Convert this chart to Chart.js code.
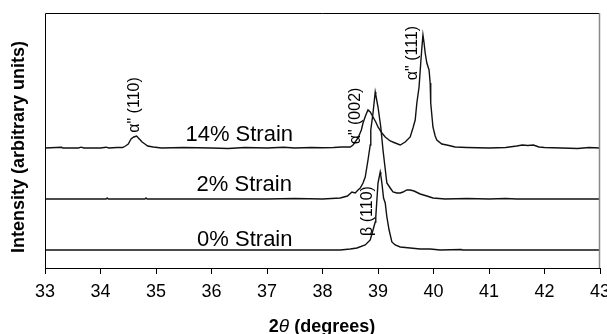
<!DOCTYPE html>
<html>
<head>
<meta charset="utf-8">
<script src="https://cdn.jsdelivr.net/npm/chart.js@4"></script>
<style>
  body { margin: 0; background: #fff; }
</style>
</head>
<body>
<canvas id="xrdChart" width="607" height="334"></canvas>
<script>
'use strict';

// 2theta range of the scan
let xMin = 33;
let xMax = 43;

// 14% strain trace: 2theta (deg) and intensity above its own baseline
let deg14 = [33.0, 33.3, 33.32, 33.6, 33.65, 33.7, 34.0, 34.1, 34.15, 34.3, 34.4, 34.45, 34.5, 34.55, 34.6, 34.65, 34.7, 34.75, 34.8, 34.85, 34.95,
    35.1, 35.5, 36.0, 36.3, 36.6, 37.0, 37.3, 37.5, 37.8, 38.0, 38.2, 38.35, 38.5, 38.55, 38.64, 38.7, 38.73, 38.78, 38.82, 38.86, 38.91, 38.96,
    39.0, 39.07, 39.13, 39.22, 39.31, 39.4, 39.49, 39.58, 39.63, 39.67, 39.7, 39.74, 39.77, 39.79, 39.81, 39.83, 39.85, 39.88, 39.92, 39.94,
    39.95, 39.99, 40.03, 40.06, 40.15, 40.24, 40.39, 40.6, 41.0, 41.3, 41.5, 41.6, 41.7, 41.8, 41.9, 42.0, 42.3, 42.6, 42.8, 43.0];
let int14 = [0, 0.8, 0, 0, 0.8, 0, 0, 0.8, 0, 0.5, 0.5, 2, 4, 9, 11, 12, 9, 6, 4, 2, 1,
    0, 0.5, 0, -0.5, 0.5, 0, 0.8, 0, 0.5, 0.3, 0.5, 1, 1, 3, 10, 18, 25, 33, 38, 36, 31, 26,
    21, 15, 11, 7, 5, 3, 6, 11, 20, 28, 45, 61, 85, 100, 113, 105, 95, 85, 78, 65,
    45, 21, 12, 8, 4, 3, 1, 0.5, 0, 0.5, 2, 3, 2.5, 3, 1, 0.5, 0, -0.5, 0.5, 0];

// 2% strain trace
let deg2 = [33.0, 34.1, 34.12, 34.14, 34.8, 34.82, 34.84, 35.5, 36.5, 37.0, 37.5, 38.0, 38.32, 38.45, 38.53, 38.59, 38.64, 38.68, 38.73,
    38.77, 38.82, 38.86, 38.87, 38.91, 38.95, 38.96, 39.0, 39.05, 39.09, 39.13, 39.16, 39.22, 39.27, 39.34, 39.4, 39.45, 39.52, 39.58,
    39.65, 39.76, 39.88, 39.99, 40.21, 40.6, 41.0, 41.3, 41.5, 43.0];
let int2 = [0, 0, 1, 0, 0, 1, 0, 0, 0, 0, 0.5, 0, 1, 3, 7, 6, 9, 11, 16,
    22, 39, 54, 69, 86, 107, 104, 92, 72, 49, 30, 16, 11, 7, 6, 6, 7, 9, 9,
    8, 5, 3, 1, 0, 0.5, 0, 0.5, 0, 0];

// 0% strain trace
let deg0 = [33.0, 38.0, 38.32, 38.5, 38.62, 38.77, 38.86, 38.91, 38.95, 38.96, 38.98, 39.0, 39.04, 39.05, 39.07, 39.1, 39.13, 39.16,
    39.2, 39.25, 39.31, 39.4, 39.58, 39.76, 39.94, 40.12, 40.5, 40.52, 43.0];
let int0 = [0, 0, 0, 1, 2, 5, 10, 20, 28, 33, 50, 67, 78, 75, 67, 52, 47, 33,
    20, 8, 5, 3, 2, 1, 1, 0, 0.5, 0, 0];

// vertical offsets used to stack the traces
let offsets = [120, 69, 18];

function toPoints(degs, ints, offset) {
    return degs.map((d, i) => ({ x: d, y: ints[i] + offset }));
}

// text drawn on the plot: [text, 2theta, y value, rotated, font size]
let notes = [
    ['α" (110)', 34.62, 163, true, 16],
    ['α" (002)', 38.59, 152, true, 16],
    ['α" (111)', 39.63, 215, true, 16],
    ['β (110)', 38.82, 57, true, 16],
    ['14% Strain', 36.50, 133, false, 22],
    ['2% Strain', 36.59, 83, false, 22],
    ['0% Strain', 36.60, 28, false, 22]
];

const fontName = '"Liberation Sans", Arial, sans-serif';

let framePlugin = {
    id: 'frame',
    afterDraw(chart) {
        let ctx = chart.ctx;
        let a = chart.chartArea;
        let xs = chart.scales.x;
        let ys = chart.scales.y;
        ctx.save();
        // box round the plot
        ctx.lineWidth = 1;
        ctx.strokeStyle = '#000';
        ctx.beginPath();
        ctx.moveTo(a.left + 0.5, a.bottom);
        ctx.lineTo(a.left + 0.5, a.top + 0.5);
        ctx.lineTo(a.right, a.top + 0.5);
        ctx.stroke();
        ctx.strokeStyle = '#888';
        ctx.lineWidth = 1.5;
        ctx.beginPath();
        ctx.moveTo(a.right - 0.5, a.top);
        ctx.lineTo(a.right - 0.5, a.bottom);
        ctx.stroke();

        // labels on the traces
        ctx.fillStyle = '#000';
        ctx.textAlign = 'center';
        ctx.textBaseline = 'middle';
        notes.forEach(n => {
            let px = xs.getPixelForValue(n[1]);
            let py = ys.getPixelForValue(n[2]);
            ctx.save();
            ctx.translate(px, py);
            if (n[3]) ctx.rotate(-Math.PI / 2);
            ctx.font = n[4] + 'px ' + fontName;
            ctx.fillText(n[0], 0, 0);
            ctx.restore();
        });

        // y axis title
        ctx.save();
        ctx.translate(19, 147);
        ctx.rotate(-Math.PI / 2);
        ctx.font = 'bold 18px ' + fontName;
        ctx.fillText('Intensity (arbitrary units)', 0, 0);
        ctx.restore();

        // x axis title with italic theta
        let parts = [['bold 18px ', '2'], ['italic 19px ', 'θ'], ['bold 18px ', ' (degrees)']];
        let total = 0;
        parts.forEach(p => { ctx.font = p[0] + fontName; total += ctx.measureText(p[1]).width; });
        let cx = 322 - total / 2;
        ctx.textAlign = 'left';
        parts.forEach(p => {
            ctx.font = p[0] + fontName;
            ctx.fillText(p[1], cx, 327);
            cx += ctx.measureText(p[1]).width;
        });
        ctx.restore();
    }
};

let ctx = document.getElementById('xrdChart').getContext('2d');
let traceStyle = { borderColor: '#111', borderWidth: 1.4, pointRadius: 0, tension: 0, fill: false };

let xrdChart = new Chart(ctx, {
    type: 'line',
    data: {
        datasets: [
            Object.assign({ label: '14% Strain', data: toPoints(deg14, int14, offsets[0]) }, traceStyle),
            Object.assign({ label: '2% Strain', data: toPoints(deg2, int2, offsets[1]) }, traceStyle),
            Object.assign({ label: '0% Strain', data: toPoints(deg0, int0, offsets[2]) }, traceStyle)
        ]
    },
    options: {
        responsive: false,
        animation: false,
        layout: { padding: { left: 45, right: 7, top: 13, bottom: 0 } },
        plugins: { legend: { display: false }, tooltip: { enabled: false } },
        scales: {
            x: {
                type: 'linear',
                min: xMin,
                max: xMax,
                afterFit(scale) {
                    scale.height = 66;
                    scale.paddingLeft = 0;
                    scale.paddingRight = 0;
                },
                grid: { display: true, drawOnChartArea: false, drawTicks: true, tickLength: 6, color: '#000' },
                border: { display: true, color: '#000', width: 1 },
                ticks: { stepSize: 1, padding: 7, color: '#000', maxRotation: 0, font: { family: fontName, size: 18 } }
            },
            y: {
                display: false,
                min: 0,
                max: 255
            }
        }
    },
    plugins: [framePlugin]
});
</script>
</body>
</html>
